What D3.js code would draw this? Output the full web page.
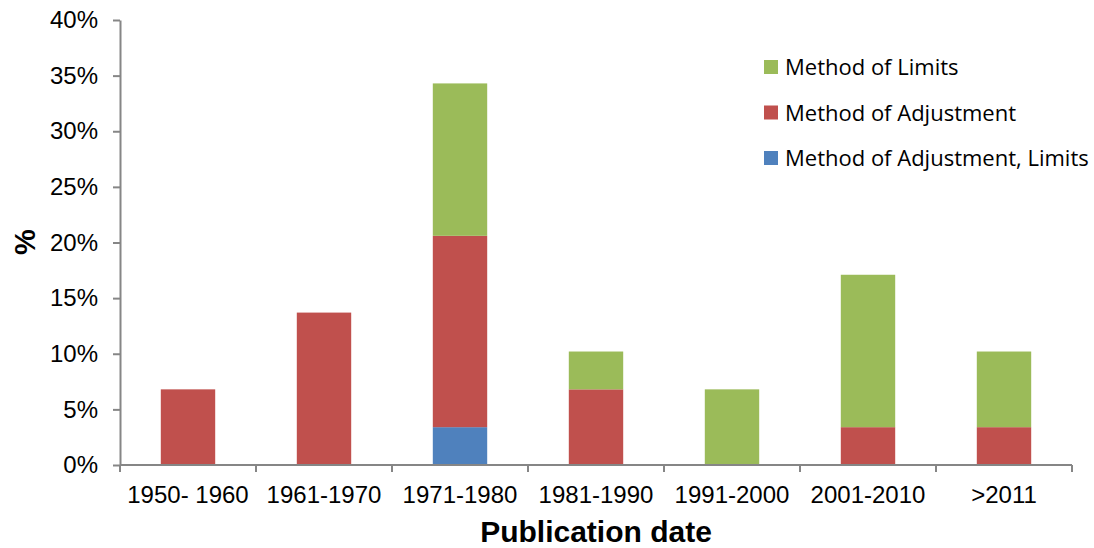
<!DOCTYPE html>
<html>
<head>
<meta charset="utf-8">
<script src="https://cdn.jsdelivr.net/npm/d3@7"></script>
<style>
  body { margin: 0; background: #fff; }
  svg { display: block; }
  .tick text { font-family: "Liberation Sans", Arial, sans-serif; font-size: 24px; fill: #000; }
  .legend text { font-family: "Open Sans", "Noto Sans", sans-serif; font-size: 22px; fill: #000; }
</style>
</head>
<body>
<div id="chart"></div>
<script>
// Chart data (percent of publications)
const categories = ["1950- 1960", "1961-1970", "1971-1980", "1981-1990", "1991-2000", "2001-2010", ">2011"];
const seriesNames = ["Method of Adjustment, Limits", "Method of Adjustment", "Method of Limits"];
const adjLimits = [0, 0, 3.4, 0, 0, 0, 0];
const adjustment = [6.8, 13.7, 17.2, 6.8, 0, 3.4, 3.4];
const limits = [0, 0, 13.7, 3.4, 6.8, 13.7, 6.8];
const yTicks = [0, 5, 10, 15, 20, 25, 30, 35, 40];
const colours = ["#4F81BD", "#C0504D", "#9BBB59"];

// Dimensions
let w = 1094, h = 548;
let margin = { left: 120, right: 22, top: 20, bottom: 83 };

let svg = d3.select("#chart").append("svg").attr("width", w).attr("height", h);

// Build table for stack
let table = categories.map((c, i) => ({ cat: c, s0: adjLimits[i], s1: adjustment[i], s2: limits[i] }));
let stacked = d3.stack().keys(["s0", "s1", "s2"])(table);

// Scales
let xScale = d3.scaleBand().domain(categories).range([margin.left, w - margin.right]).paddingInner(0.6).paddingOuter(0.3);
let xBound = d3.scaleBand().domain(categories).range([margin.left, w - margin.right]);
let yScale = d3.scaleLinear().domain([0, 40]).range([h - margin.bottom, margin.top]);

// Bars
svg.append("g").selectAll("g").data(stacked).enter()
  .append("g").attr("fill", (d, i) => colours[i])
  .selectAll("rect").data(d => d.filter(p => p[1] - p[0] > 0)).enter()
  .append("rect")
  .attr("x", d => xScale(d.data.cat))
  .attr("width", xScale.bandwidth())
  .attr("y", d => yScale(d[1]))
  .attr("height", d => yScale(d[0]) - yScale(d[1]));

// Y axis
let yAxis = d3.axisLeft(yScale).tickValues(yTicks).tickFormat(d => d + "%").tickSize(7).tickSizeOuter(0).tickPadding(15);
let gy = svg.append("g").attr("transform", "translate(" + margin.left + ",0)").call(yAxis);
gy.selectAll("line, path").attr("stroke", "#868686").attr("stroke-width", 2);

// X axis (ticks at category boundaries)
let gx = svg.append("g").attr("transform", "translate(0," + (h - margin.bottom) + ")");
gx.append("line").attr("x1", margin.left).attr("x2", w - margin.right).attr("stroke", "#868686").attr("stroke-width", 2);
let bounds = categories.map(c => xBound(c)).concat([w - margin.right]);
gx.selectAll(".bt").data(bounds).enter().append("line")
  .attr("x1", d => d).attr("x2", d => d).attr("y1", 0).attr("y2", 7)
  .attr("stroke", "#868686").attr("stroke-width", 2);
gx.selectAll(".lbl").data(categories).enter().append("text")
  .attr("x", d => xBound(d) + xBound.bandwidth() / 2).attr("y", 38)
  .attr("text-anchor", "middle")
  .style("font-family", "'Liberation Sans', Arial, sans-serif").style("font-size", "24px")
  .text(d => d);

// Axis labels
svg.append("text").text("Publication date").attr("x", 596).attr("y", 542)
  .attr("text-anchor", "middle").style("font-family", "'Liberation Sans', Arial, sans-serif")
  .style("font-size", "30px").style("font-weight", "bold");
svg.append("text").text("%").attr("transform", "translate(35,242) rotate(-90)")
  .attr("text-anchor", "middle").style("font-family", "'Liberation Sans', Arial, sans-serif")
  .style("font-size", "29px").style("font-weight", "bold");

// Legend
let legend = svg.append("g").attr("class", "legend");
[2, 1, 0].forEach((s, i) => {
  legend.append("rect").attr("x", 764).attr("y", 60 + i * 45.5).attr("width", 14).attr("height", 14).attr("fill", colours[s]);
  legend.append("text").attr("x", 785).attr("y", 75 + i * 45.5).text(seriesNames[s]);
});
</script>
</body>
</html>
